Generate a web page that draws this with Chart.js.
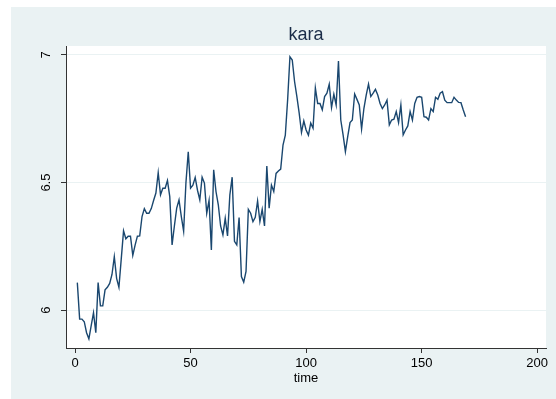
<!DOCTYPE html>
<html>
<head>
<meta charset="utf-8">
<script src="https://cdn.jsdelivr.net/npm/chart.js@4/dist/chart.umd.min.js"></script>
<style>
    html, body { margin: 0; padding: 0; background: #fff; }
    #wrap { width: 556px; height: 399px; }
</style>
</head>
<body>
<div id="wrap"><canvas id="grafico" width="556" height="399"></canvas></div>
<script>
// Série "kara" ao longo do tempo (t = 1 .. 169)
const tituloGrafico = 'kara';
const tituloEixoX = 'time';
const ticksX = [0, 50, 100, 150, 200];
const ticksY = [6, 6.5, 7];
const inicioTempo = 1;
const kara = [
    6.108, 5.965, 5.965, 5.955, 5.912, 5.888, 5.940, 5.990, 5.912, 6.108,
    6.017, 6.017, 6.080, 6.090, 6.105, 6.140, 6.210, 6.125, 6.090, 6.200,
    6.311, 6.280, 6.290, 6.290, 6.215, 6.255, 6.290, 6.291, 6.367, 6.398,
    6.380, 6.380, 6.398, 6.430, 6.459, 6.539, 6.452, 6.478, 6.478, 6.508,
    6.445, 6.256, 6.330, 6.400, 6.432, 6.367, 6.310, 6.500, 6.621, 6.478,
    6.490, 6.520, 6.470, 6.432, 6.521, 6.498, 6.380, 6.430, 6.236, 6.550,
    6.465, 6.413, 6.330, 6.295, 6.360, 6.291, 6.452, 6.521, 6.270, 6.256,
    6.363, 6.132, 6.110, 6.152, 6.395, 6.380, 6.347, 6.364, 6.428, 6.347,
    6.395, 6.330, 6.565, 6.400, 6.490, 6.465, 6.536, 6.545, 6.553, 6.647,
    6.686, 6.824, 6.993, 6.980, 6.896, 6.837, 6.772, 6.697, 6.742, 6.706,
    6.686, 6.733, 6.713, 6.870, 6.810, 6.810, 6.785, 6.837, 6.850, 6.885,
    6.794, 6.846, 6.804, 6.976, 6.745, 6.687, 6.621, 6.680, 6.735, 6.745,
    6.847, 6.826, 6.804, 6.710, 6.790, 6.843, 6.886, 6.837, 6.850, 6.865,
    6.843, 6.810, 6.790, 6.804, 6.823, 6.726, 6.745, 6.748, 6.778, 6.735,
    6.804, 6.687, 6.706, 6.722, 6.778, 6.745, 6.810, 6.834, 6.837, 6.834,
    6.758, 6.756, 6.745, 6.790, 6.778, 6.834, 6.826, 6.850, 6.856, 6.823,
    6.813, 6.813, 6.813, 6.834, 6.823, 6.814, 6.813, 6.784, 6.758
];

const fonte = '"Liberation Sans", Arial, sans-serif';
const corFundo = '#eaf2f3';
const corEixo = '#333';

const pontos = kara.map((v, i) => ({ x: inicioTempo + i, y: v }));

// Fundo, área branca do gráfico e textos (título, rótulos do eixo y, título do eixo x)
const estiloStata = {
    id: 'estiloStata',
    beforeDraw(chart) {
        const { ctx, chartArea: a } = chart;
        ctx.save();
        ctx.fillStyle = '#fff';
        ctx.fillRect(0, 0, chart.width, chart.height);
        ctx.fillStyle = corFundo;
        ctx.fillRect(11, 7, chart.width - 11, chart.height - 7);
        ctx.fillStyle = '#fff';
        ctx.fillRect(a.left, a.top, a.right - a.left, a.bottom - a.top);
        ctx.restore();
    },
    afterDraw(chart) {
        const { ctx, chartArea: a } = chart;
        const meio = (a.left + a.right) / 2;
        ctx.save();
        ctx.textAlign = 'center';
        ctx.textBaseline = 'middle';

        ctx.fillStyle = '#1a2c48';
        ctx.font = '18px ' + fonte;
        ctx.fillText(tituloGrafico, meio, 35);

        ctx.fillStyle = '#000';
        ctx.font = '13px ' + fonte;
        ctx.fillText(tituloEixoX, meio, 378);

        const escalaY = chart.scales.y;
        ticksY.forEach(v => {
            ctx.save();
            ctx.translate(46, escalaY.getPixelForValue(v));
            ctx.rotate(-Math.PI / 2);
            ctx.fillText(String(v), 0, 0);
            ctx.restore();
        });
        ctx.restore();
    }
};

new Chart(document.getElementById('grafico'), {
    type: 'line',
    data: {
        datasets: [{
            label: tituloGrafico,
            data: pontos,
            borderColor: '#1a476f',
            borderWidth: 1.4,
            pointRadius: 0,
            tension: 0,
            fill: false
        }]
    },
    options: {
        responsive: false,
        animation: false,
        devicePixelRatio: 1,
        layout: { padding: { left: 11, right: 10, top: 46, bottom: 0 } },
        plugins: {
            legend: { display: false },
            tooltip: { enabled: false },
            title: { display: false }
        },
        scales: {
            x: {
                type: 'linear',
                min: -3.9,
                max: 203.8,
                afterBuildTicks: s => { s.ticks = ticksX.map(v => ({ value: v })); },
                afterFit: s => { s.height = 51; },
                grid: { drawOnChartArea: false, drawTicks: true, tickLength: 5, tickColor: corEixo },
                border: { display: true, color: corEixo, width: 1 },
                ticks: {
                    color: '#000',
                    font: { family: fonte, size: 13 },
                    padding: 3,
                    maxRotation: 0
                }
            },
            y: {
                type: 'linear',
                min: 5.852,
                max: 7.035,
                afterBuildTicks: s => { s.ticks = ticksY.map(v => ({ value: v })); },
                afterFit: s => { s.width = 55; },
                grid: { color: corFundo, lineWidth: 1, drawTicks: true, tickLength: 5, tickColor: corEixo },
                border: { display: true, color: corEixo, width: 1 },
                ticks: { display: false }
            }
        }
    },
    plugins: [estiloStata]
});
</script>
</body>
</html>
